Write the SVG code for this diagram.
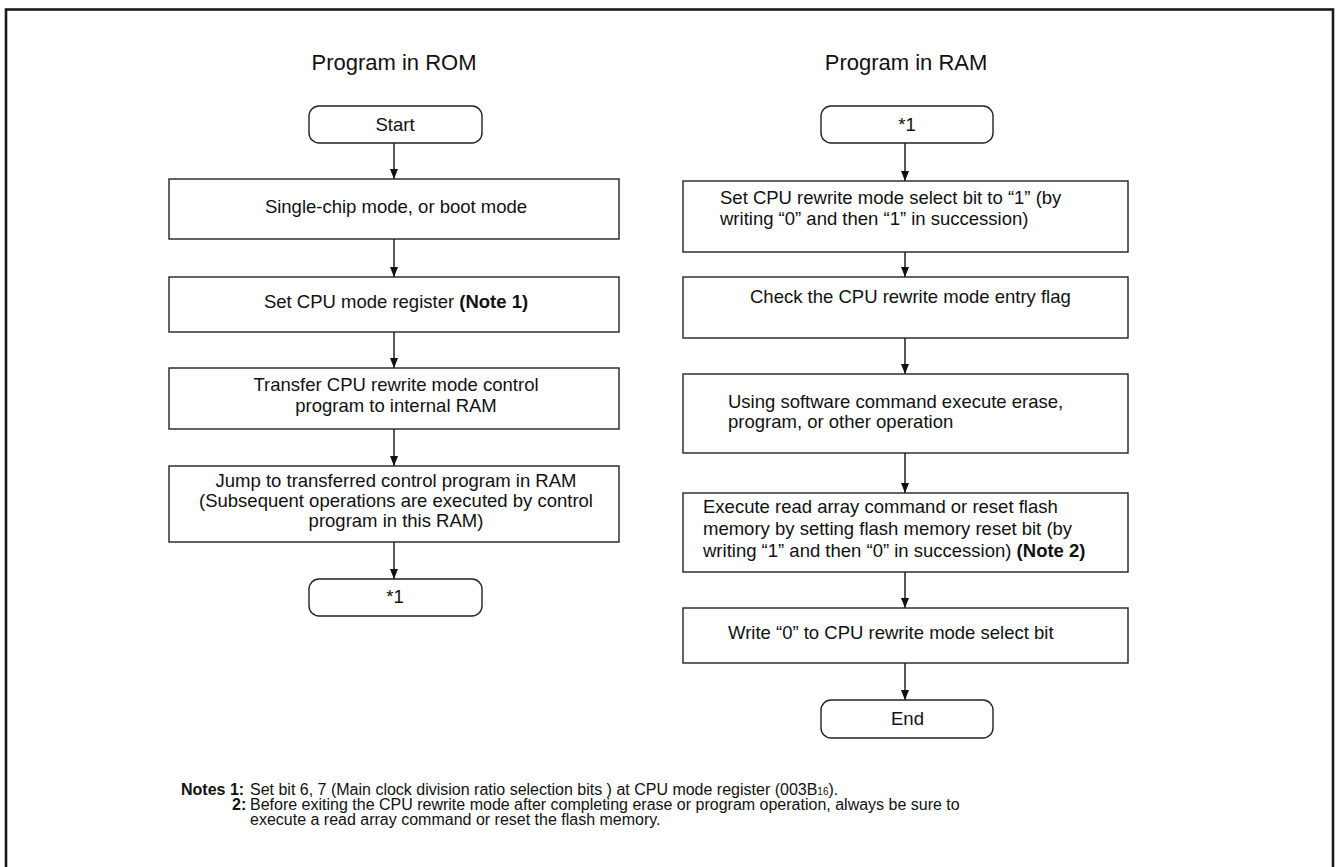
<svg xmlns="http://www.w3.org/2000/svg" width="1337" height="867" viewBox="0 0 1337 867">
<style>
text{font-family:"Liberation Sans",Arial,sans-serif;fill:#111}
.t{font-size:22px;text-anchor:middle}
.b{font-size:18.5px}
.c{text-anchor:middle}
.n{font-size:16px}
.box{fill:#fff;stroke:#222;stroke-width:1.4}
.con line{stroke:#111;stroke-width:1.4;marker-end:url(#ah)}
</style>
<defs>
<marker id="ah" viewBox="0 0 10 8" refX="10" refY="4" markerWidth="10" markerHeight="8" markerUnits="userSpaceOnUse" orient="auto">
<path d="M0,0 L10,4 L0,8 Z" fill="#111"/>
</marker>
</defs>
<rect x="0" y="0" width="1337" height="867" fill="#fff"/>
<rect x="6" y="9.5" width="1327" height="880" fill="none" stroke="#1a1a1a" stroke-width="2.6"/>
<text class="t" x="394" y="70">Program in ROM</text>
<text class="t" x="906" y="70">Program in RAM</text>
<g class="con" id="connectors">
<line x1="394" y1="143" x2="394" y2="179"/>
<line x1="394" y1="239" x2="394" y2="277"/>
<line x1="394" y1="332" x2="394" y2="368"/>
<line x1="394" y1="429" x2="394" y2="466"/>
<line x1="394" y1="542" x2="394" y2="579"/>
<line x1="905" y1="143" x2="905" y2="181"/>
<line x1="905" y1="252" x2="905" y2="277"/>
<line x1="905" y1="338" x2="905" y2="374"/>
<line x1="905" y1="453" x2="905" y2="493"/>
<line x1="905" y1="572" x2="905" y2="608"/>
<line x1="905" y1="663" x2="905" y2="700"/>
</g>
<g id="start">
<rect class="box" x="309" y="106" width="173" height="37" rx="10"/>
<text class="b c" x="395" y="131">Start</text>
</g>
<g id="l1">
<rect class="box" x="169" y="179" width="450" height="60"/>
<text class="b c" x="396" y="213">Single-chip mode, or boot mode</text>
</g>
<g id="l2">
<rect class="box" x="169" y="277" width="450" height="55"/>
<text class="b c" x="396" y="308">Set CPU mode register <tspan font-weight="bold">(Note 1)</tspan></text>
</g>
<g id="l3">
<rect class="box" x="169" y="368" width="450" height="61"/>
<text class="b c" x="396" y="391">Transfer CPU rewrite mode control</text>
<text class="b c" x="396" y="412">program to internal RAM</text>
</g>
<g id="l4">
<rect class="box" x="169" y="466" width="450" height="76"/>
<text class="b c" x="396" y="487">Jump to transferred control program in RAM</text>
<text class="b c" x="396" y="507">(Subsequent operations are executed by control</text>
<text class="b c" x="396" y="527">program in this RAM)</text>
</g>
<g id="l5">
<rect class="box" x="309" y="579" width="173" height="37" rx="10"/>
<text class="b c" x="395" y="603">*1</text>
</g>
<g id="r0">
<rect class="box" x="821" y="106" width="172" height="37" rx="10"/>
<text class="b c" x="907" y="131">*1</text>
</g>
<g id="r1">
<rect class="box" x="683" y="181" width="445" height="71"/>
<text class="b" x="720" y="204">Set CPU rewrite mode select bit to “1” (by</text>
<text class="b" x="720" y="225">writing “0” and then “1” in succession)</text>
</g>
<g id="r2">
<rect class="box" x="683" y="277" width="445" height="61"/>
<text class="b" x="750" y="303">Check the CPU rewrite mode entry flag</text>
</g>
<g id="r3">
<rect class="box" x="683" y="374" width="445" height="79"/>
<text class="b" x="728" y="408">Using software command execute erase,</text>
<text class="b" x="728" y="428">program, or other operation</text>
</g>
<g id="r4">
<rect class="box" x="683" y="493" width="445" height="79"/>
<text class="b" x="703" y="513">Execute read array command or reset flash</text>
<text class="b" x="703" y="535">memory by setting flash memory reset bit (by</text>
<text class="b" x="703" y="557">writing “1” and then “0” in succession) <tspan font-weight="bold">(Note 2)</tspan></text>
</g>
<g id="r5">
<rect class="box" x="683" y="608" width="445" height="55"/>
<text class="b" x="728" y="639">Write “0” to CPU rewrite mode select bit</text>
</g>
<g id="r6">
<rect class="box" x="821" y="700" width="172" height="38" rx="10"/>
<text class="b" x="891" y="725">End</text>
</g>
<g id="notes">
<text class="n" x="181" y="795" font-weight="bold">Notes 1:</text>
<text class="n" x="250" y="795">Set bit 6, 7 (Main clock division ratio selection bits ) at CPU mode register (003B<tspan font-size="10px">16</tspan>).</text>
<text class="n" x="232" y="810" font-weight="bold">2:</text>
<text class="n" x="250" y="810">Before exiting the CPU rewrite mode after completing erase or program operation, always be sure to</text>
<text class="n" x="250" y="825">execute a read array command or reset the flash memory.</text>
</g>
</svg>
